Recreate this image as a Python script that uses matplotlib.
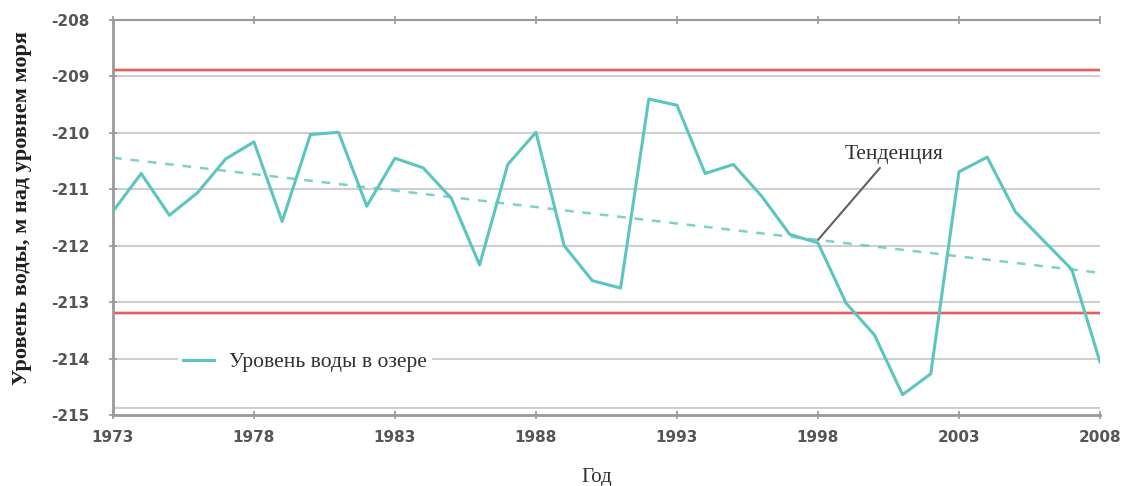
import matplotlib.pyplot as plt
import numpy as np

# Уровень воды в озере, м над уровнем моря
years = list(range(1973, 2009))
level = [
    -211.39, -210.72, -211.46, -211.06, -210.46, -210.16, -211.57, -210.03,
    -209.99, -211.30, -210.45, -210.62, -211.16, -212.34, -210.56, -209.99,
    -212.00, -212.62, -212.75, -209.40, -209.51, -210.72, -210.56, -211.12,
    -211.80, -211.95, -213.02, -213.58, -214.64, -214.27, -210.69, -210.43,
    -211.40, -211.91, -212.42, -214.06,
]

# линия тренда (начало и конец)
trend_years = [1973, 2008]
trend_level = [-210.44, -212.48]

# пределы колебаний
upper_limit = -208.88
lower_limit = -213.19

yticks = [-215, -214, -213, -212, -211, -210, -209, -208]
xticks = [1973, 1978, 1983, 1988, 1993, 1998, 2003, 2008]

teal = '#5cc6be'
grid_c = '#cfcfcf'
axis_c = '#9a9a9a'
tick_c = '#555555'
serif = ['Liberation Serif', 'DejaVu Serif']

fig = plt.figure(figsize=(11.23, 4.86), dpi=100)
ax = fig.add_axes([0.1006, 0.1461, 0.8789, 0.8127])

ax.set_xlim(1973, 2008)
ax.set_ylim(-215, -208)

for y in yticks[1:]:
    ax.axhline(y, color=grid_c, lw=1.5, zorder=1)
ax.axhline(-214.87, color=grid_c, lw=1.5, zorder=1)

ax.axhline(upper_limit, color='#f3d8c8', lw=3.0, zorder=1.5)
ax.axhline(upper_limit, color='#e0606a', lw=1.6, zorder=2)
ax.axhline(lower_limit, color='#f3d8c8', lw=3.0, zorder=1.5)
ax.axhline(lower_limit, color='#e0606a', lw=1.6, zorder=2)

ax.plot(trend_years, trend_level, color=teal, lw=1.8, ls=(0, (3.5, 3.5)),
        alpha=0.8, zorder=3)
line, = ax.plot(years, level, color=teal, lw=2.2, zorder=4,
                label='Уровень воды в озере')

# подпись тренда с выноской
tx = 1998
ty = np.interp(tx, trend_years, trend_level)
ax.annotate('', xy=(tx, ty), xytext=(2000.2, -210.62),
            arrowprops=dict(arrowstyle='-', color='#606060', lw=1.5,
                            shrinkA=0, shrinkB=0), zorder=5)
ax.text(2000.7, -210.38, 'Тенденция', family=serif, fontsize=15.5,
        color='#303030', ha='center', va='center')

leg = ax.legend(handles=[line], loc='center left',
                bbox_to_anchor=(0.066, 0.134), frameon=True,
                prop={'family': serif, 'size': 15.5}, handlelength=1.4,
                handletextpad=0.7, borderpad=0.25, borderaxespad=0)
leg.get_frame().set_facecolor('white')
leg.get_frame().set_edgecolor('none')
leg.get_frame().set_alpha(1)
for t in leg.get_texts():
    t.set_color('#303030')

ax.spines['right'].set_visible(False)
ax.spines['top'].set_color(axis_c)
ax.spines['top'].set_linewidth(1.5)
ax.spines['left'].set_color(axis_c)
ax.spines['left'].set_linewidth(2.0)
ax.spines['bottom'].set_color(axis_c)
ax.spines['bottom'].set_linewidth(2.0)

ax.set_xticks(xticks)
ax.set_yticks(yticks)
ax.set_xticklabels([str(x) for x in xticks])
ax.set_yticklabels([str(y) for y in yticks])
ax.tick_params(axis='both', direction='inout', length=6, width=1.2,
               color=axis_c, labelcolor=tick_c, labelsize=11)
ax.tick_params(axis='x', top=True, pad=8)
ax.tick_params(axis='y', pad=14)
for lbl in ax.get_xticklabels() + ax.get_yticklabels():
    lbl.set_fontweight('bold')

ax.set_xlabel('Год', family=serif, fontsize=15, color='#303030')
ax.xaxis.set_label_coords(0.49, -0.134)
ax.set_ylabel('Уровень воды, м над уровнем моря', family=serif,
              fontsize=16, fontweight='bold', color='#202020')
ax.yaxis.set_label_coords(-0.082, 0.525)

fig.savefig('out.png', dpi=100, facecolor='white')
